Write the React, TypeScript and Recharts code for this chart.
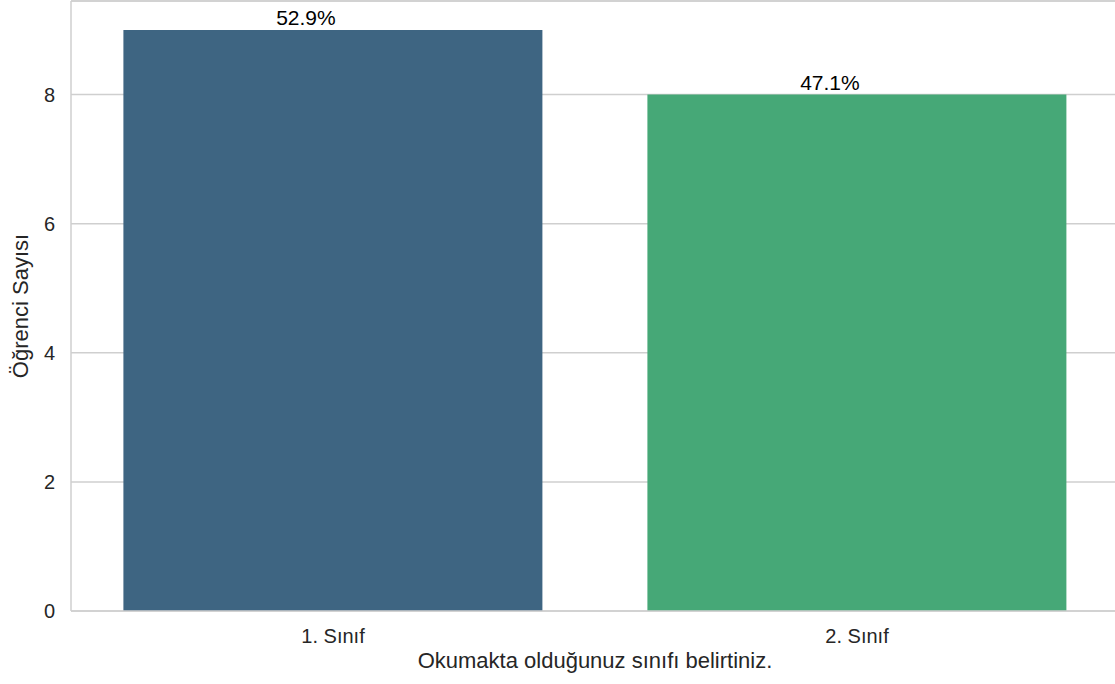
import React from "react";
import {
  BarChart,
  Bar,
  Cell,
  XAxis,
  YAxis,
  CartesianGrid,
  LabelList,
  Label,
  ReferenceLine,
} from "recharts";

const categories = ["1. Sınıf", "2. Sınıf"];
const counts = [9, 8];
const percentLabels = ["52.9%", "47.1%"];
const yTicks = [0, 2, 4, 6, 8];
const barColors = ["#3E6582", "#46A877"];

const FONT = '"Liberation Sans", Arial, sans-serif';
const GRID = "#cfcfcf";
const TEXT = "#262626";

const data = categories.map((name, i) => ({
  name,
  count: counts[i],
  pct: percentLabels[i],
}));

// y-axis title, rotated, centered on the plot height
const YTitle = (props: any) => {
  const vb = props.viewBox || {};
  const cx = 28;
  const cy = vb.y + vb.height / 2;
  return (
    <text
      x={cx}
      y={cy}
      transform={`rotate(-90, ${cx}, ${cy})`}
      textAnchor="middle"
      fill={TEXT}
      fontSize={22}
      fontFamily={FONT}
    >
      Öğrenci Sayısı
    </text>
  );
};

const XTitle = (props: any) => {
  const vb = props.viewBox || {};
  return (
    <text
      x={vb.x + vb.width / 2}
      y={vb.y + 57}
      textAnchor="middle"
      fill={TEXT}
      fontSize={22}
      fontFamily={FONT}
    >
      Okumakta olduğunuz sınıfı belirtiniz.
    </text>
  );
};

export default function App() {
  return (
    <div
      style={{
        position: "absolute",
        left: 0,
        top: 0,
        width: 1115,
        height: 684,
        overflow: "hidden",
        background: "#fff",
      }}
    >
      <BarChart
        width={1125}
        height={684}
        data={data}
        margin={{ top: 1, right: 6, bottom: 0, left: 0 }}
        barCategoryGap="10%"
        style={{ fontFamily: FONT }}
      >
        <CartesianGrid
          horizontal
          vertical={false}
          stroke={GRID}
          strokeWidth={1.5}
        />
        <XAxis
          dataKey="name"
          height={73}
          tickLine={false}
          tickSize={0}
          tickMargin={18}
          axisLine={{ stroke: GRID, strokeWidth: 1.5 }}
          tick={{ fill: TEXT, fontSize: 20, fontFamily: FONT }}
        >
          <Label content={XTitle} />
        </XAxis>
        <YAxis
          width={71}
          domain={[0, 9.45]}
          ticks={yTicks}
          tickLine={false}
          tickSize={0}
          tickMargin={16}
          axisLine={{ stroke: GRID, strokeWidth: 1.5 }}
          tick={{ fill: TEXT, fontSize: 20, fontFamily: FONT }}
        >
          <Label content={YTitle} />
        </YAxis>
        <ReferenceLine y={9.45} stroke={GRID} strokeWidth={1.5} ifOverflow="visible" />
        <Bar dataKey="count" isAnimationActive={false}>
          {data.map((_, i) => (
            <Cell key={`cell-${i}`} fill={barColors[i % barColors.length]} />
          ))}
          <LabelList
            dataKey="pct"
            position="top"
            offset={5}
            dx={-27}
            fill="#000"
            fontSize={21}
            fontFamily={FONT}
          />
        </Bar>
      </BarChart>
    </div>
  );
}
